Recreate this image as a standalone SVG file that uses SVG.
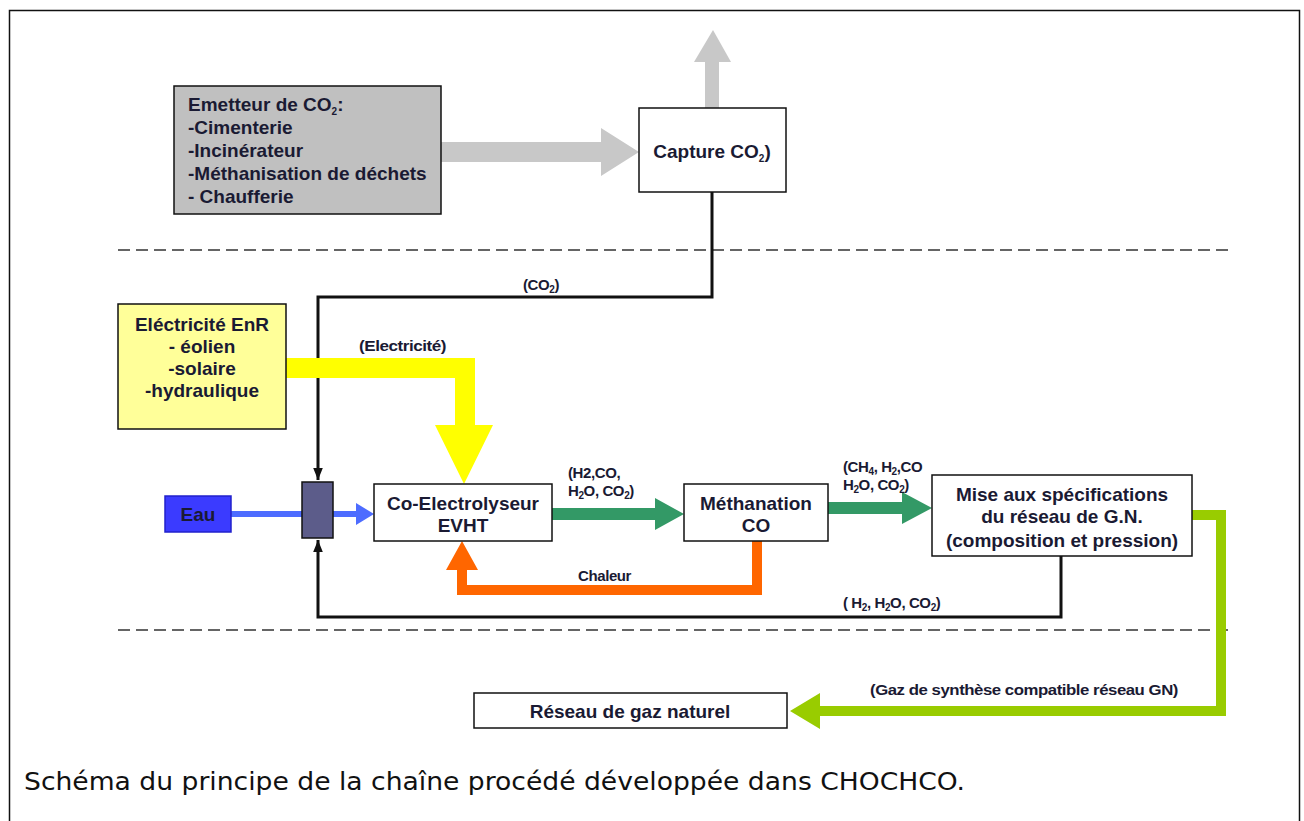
<svg xmlns="http://www.w3.org/2000/svg" width="1304" height="821" viewBox="0 0 1304 821">
<defs>
<style>
.box{fill:#fff;stroke:#111;stroke-width:1.5}
.t{font-family:"Liberation Sans",Arial,sans-serif;font-weight:bold;font-size:19px;fill:#1a1a33}
.s{font-family:"Liberation Sans",Arial,sans-serif;font-weight:bold;font-size:15px;fill:#1a1a33;letter-spacing:-0.4px}
.sub{font-size:10px}
.dash{stroke:#333;stroke-width:1.5;stroke-dasharray:12 6;fill:none}
.blk{stroke:#111;stroke-width:3;fill:none}
</style>
<marker id="ah" viewBox="0 0 10 10" refX="10" refY="5" markerWidth="4" markerHeight="4" orient="auto" markerUnits="strokeWidth"><path d="M0,1 L10,5 L0,9 z" fill="#111"/></marker>
</defs>
<rect x="9.5" y="10.5" width="1290" height="830" fill="#fff" stroke="#111" stroke-width="1.5"/>
<g id="connectors">
<line class="dash" x1="118" y1="250" x2="1228" y2="250"/>
<line class="dash" x1="118" y1="630" x2="1228" y2="630"/>
<path d="M441,142 H601 V128 L639,152 L601,176 V162 H441 z" fill="#c8c8c8"/>
<path d="M705,108 V62 H694 L713,30 L731,62 H719 V108 z" fill="#c8c8c8"/>
<path class="blk" d="M712,192 V297 H318 V480" marker-end="url(#ah)"/>
<path class="blk" d="M1061,556 V617 H318 V540" marker-end="url(#ah)"/>
<path d="M286,358 H475 V425 H493 L464,484 L435,425 H455 V378 H286 z" fill="#ffff00"/>
<line x1="231" y1="514" x2="302" y2="514" stroke="#4d6cff" stroke-width="6"/>
<path d="M333,511 H356 V503 L374,514 L356,525 V517 H333 z" fill="#4d6cff"/>
<path d="M552,508 H655 V498 L684,514 L655,530 V520 H552 z" fill="#339966"/>
<path d="M828,502 H902 V492 L932,508 L902,524 V514 H828 z" fill="#339966"/>
<path d="M752,541 V585 H467 V570 H478 L462,541 L446,570 H457 V595 H762 V541 z" fill="#ff6600"/>
<path d="M1192,510 H1226 V716 H820 V729 L790,711 L820,693 V706 H1216 V520 H1192 z" fill="#99cc00"/>
</g>
<g id="emetteur">
<rect x="174" y="86" width="267" height="128" fill="#c0c0c0" stroke="#111" stroke-width="1.5"/>
<text class="t" x="188" y="111">Emetteur de CO<tspan class="sub" dy="4">2</tspan><tspan dy="-4">:</tspan></text>
<text class="t" x="188" y="134">-Cimenterie</text>
<text class="t" x="188" y="157">-Incinérateur</text>
<text class="t" x="188" y="180">-Méthanisation de déchets</text>
<text class="t" x="188" y="203">- Chaufferie</text>
</g>
<g id="capture">
<rect class="box" x="639" y="108" width="147" height="84"/>
<text class="t" x="712" y="158" text-anchor="middle">Capture CO<tspan class="sub" dy="4">2</tspan><tspan dy="-4">)</tspan></text>
</g>
<g id="electricite">
<rect x="118" y="304" width="168" height="125" fill="#ffff99" stroke="#111" stroke-width="1.5"/>
<text class="t" x="202" y="331" text-anchor="middle">Eléctricité EnR</text>
<text class="t" x="202" y="353" text-anchor="middle">- éolien</text>
<text class="t" x="202" y="375" text-anchor="middle">-solaire</text>
<text class="t" x="202" y="397" text-anchor="middle">-hydraulique</text>
</g>
<g id="eau">
<rect x="165" y="496" width="66" height="36" fill="#3b3bff" stroke="#2222cc" stroke-width="1.5"/>
<text class="t" x="198" y="521" text-anchor="middle" fill="#111">Eau</text>
</g>
<g id="mixer">
<rect x="302" y="482" width="31" height="56" fill="#5c5c8a" stroke="#111" stroke-width="1.5"/>
</g>
<g id="electrolyseur">
<rect class="box" x="374" y="484" width="178" height="57"/>
<text class="t" x="463" y="510" text-anchor="middle">Co-Electrolyseur</text>
<text class="t" x="463" y="532" text-anchor="middle">EVHT</text>
</g>
<g id="methanation">
<rect class="box" x="684" y="484" width="144" height="57"/>
<text class="t" x="756" y="510" text-anchor="middle">Méthanation</text>
<text class="t" x="756" y="532" text-anchor="middle">CO</text>
</g>
<g id="mise">
<rect class="box" x="932" y="475" width="260" height="81"/>
<text class="t" x="1062" y="501" text-anchor="middle">Mise aux spécifications</text>
<text class="t" x="1062" y="523" text-anchor="middle">du réseau de G.N.</text>
<text class="t" x="1062" y="547" text-anchor="middle">(composition et pression)</text>
</g>
<g id="reseau">
<rect class="box" x="474" y="693" width="313" height="35"/>
<text class="t" x="630" y="718" text-anchor="middle">Réseau de gaz naturel</text>
</g>
<g id="labels">
<text class="s" x="523" y="290">(CO<tspan class="sub" dy="3">2</tspan><tspan dy="-3">)</tspan></text>
<text class="s" x="359" y="351" textLength="87" lengthAdjust="spacingAndGlyphs">(Electricité)</text>
<text class="s" x="568" y="478">(H2,CO,</text>
<text class="s" x="568" y="496">H<tspan class="sub" dy="3">2</tspan><tspan dy="-3">O, CO</tspan><tspan class="sub" dy="3">2</tspan><tspan dy="-3">)</tspan></text>
<text class="s" x="843" y="472">(CH<tspan class="sub" dy="3">4</tspan><tspan dy="-3">, H</tspan><tspan class="sub" dy="3">2</tspan><tspan dy="-3">,CO</tspan></text>
<text class="s" x="843" y="490">H<tspan class="sub" dy="3">2</tspan><tspan dy="-3">O, CO</tspan><tspan class="sub" dy="3">2</tspan><tspan dy="-3">)</tspan></text>
<text class="s" x="578" y="581">Chaleur</text>
<text class="s" x="843" y="608">( H<tspan class="sub" dy="3">2</tspan><tspan dy="-3">, H</tspan><tspan class="sub" dy="3">2</tspan><tspan dy="-3">O, CO</tspan><tspan class="sub" dy="3">2</tspan><tspan dy="-3">)</tspan></text>
<text class="s" x="870" y="695" textLength="308" lengthAdjust="spacingAndGlyphs">(Gaz de synthèse compatible réseau GN)</text>
</g>
<text x="24" y="790" font-family="DejaVu Sans Condensed, DejaVu Sans, Verdana, sans-serif" font-size="25" fill="#111" textLength="941" lengthAdjust="spacingAndGlyphs">Schéma du principe de la chaîne procédé développée dans CHOCHCO.</text>
</svg>
